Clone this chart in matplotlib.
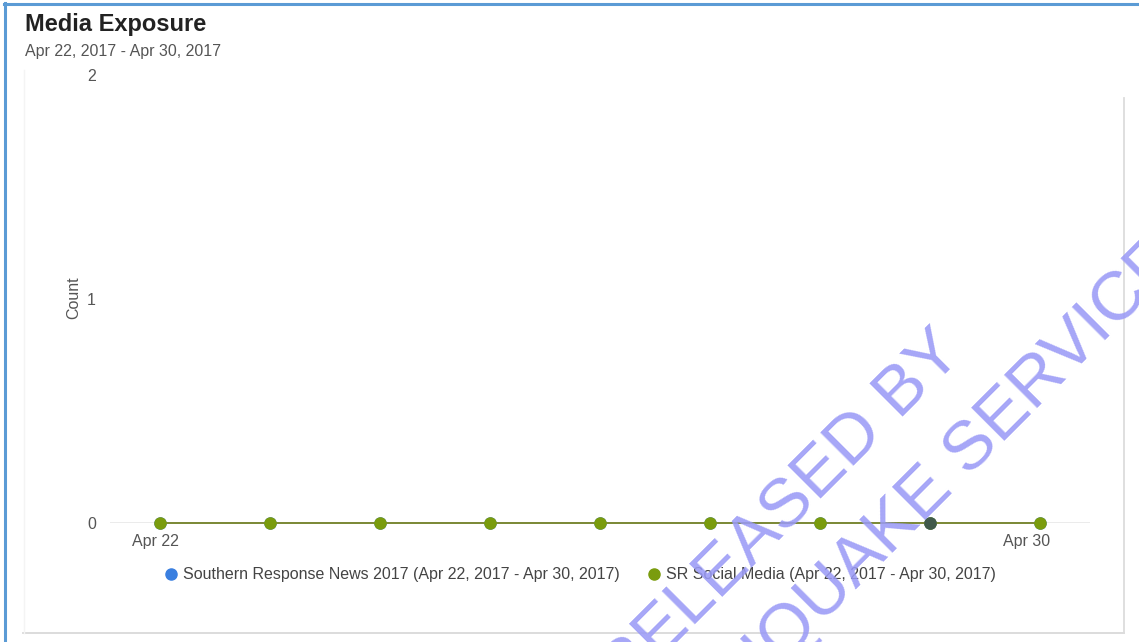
import matplotlib
matplotlib.use("Agg")
import matplotlib.pyplot as plt
from matplotlib.lines import Line2D
from matplotlib.transforms import ScaledTranslation

# ---- data ----
dates = ["Apr 22", "Apr 23", "Apr 24", "Apr 25", "Apr 26", "Apr 27", "Apr 28", "Apr 29", "Apr 30"]
news_counts = [0, 0, 0, 0, 0, 0, 0, 0, 0]
social_counts = [0, 0, 0, 0, 0, 0, 0, 0, 0]
highlight_index = 7
shown_xticks = ["Apr 22", "Apr 30"]
y_ticks = [0, 1, 2]
series_labels = ["Southern Response News 2017 (Apr 22, 2017 - Apr 30, 2017)",
                 "SR Social Media (Apr 22, 2017 - Apr 30, 2017)"]
title = "Media Exposure"
subtitle = "Apr 22, 2017 - Apr 30, 2017"
watermark_lines = ["RELEASED BY", "EARTHQUAKE SERVICES"]

W, H = 1139, 642
plt.rcParams['font.family'] = ['Liberation Sans', 'DejaVu Sans']

fig = plt.figure(figsize=(W / 100, H / 100), dpi=100)
fig.patch.set_facecolor('white')

def fx(px):
    return px / W

def fy(py):
    return 1 - py / H

# panel decorations
fig.add_artist(Line2D([fx(5), fx(5)], [fy(3), fy(H)], color='#5b9bd5', lw=2.2))
fig.add_artist(Line2D([fx(4), fx(W)], [fy(4), fy(4)], color='#5b9bd5', lw=2.2))
fig.add_artist(Line2D([fx(23), fx(1124)], [fy(633), fy(633)], color='#d9d9d9', lw=1.3))
fig.add_artist(Line2D([fx(1124), fx(1124)], [fy(98), fy(633)], color='#dcdcdc', lw=1.3))
fig.add_artist(Line2D([fx(24), fx(24)], [fy(70), fy(633)], color='#f4f4f4', lw=1.0))

fig.text(fx(25), fy(31), title, fontsize=17, fontweight='bold', color='#222222',
         ha='left', va='baseline')
fig.text(fx(25), fy(56), subtitle, fontsize=11.5, color='#555555',
         ha='left', va='baseline')

ax = fig.add_axes([fx(110), fy(523), fx(1090) - fx(110), fy(75) - fy(523)])
x = list(range(len(dates)))
ax.set_xlim(-50 / 110, len(dates) - 1 + 50 / 110)
ax.set_ylim(0, 2)
for s in ax.spines.values():
    s.set_visible(False)
ax.axhline(0, color='#e8e8e8', lw=1.2, zorder=1)

news_line, = ax.plot(x, news_counts, color='#3a7fe0', marker='o', markersize=8,
                     lw=1.3, clip_on=False, zorder=2)
social_line, = ax.plot(x, social_counts, color='#7f8b35', lw=1.4, marker='o',
                       markersize=8, markerfacecolor='#7a9c0e', markeredgecolor='#7a9c0e',
                       clip_on=False, zorder=3)
ax.plot([x[highlight_index]], [social_counts[highlight_index]], marker='o', markersize=8,
        color='#415a4a', clip_on=False, zorder=4)

ax.set_yticks(y_ticks)
ax.set_yticklabels([str(v) for v in y_ticks])
ax.set_xticks([dates.index(d) for d in shown_xticks])
ax.set_xticklabels(shown_xticks)
ax.tick_params(axis='y', length=0, pad=10, labelsize=11.5, labelcolor='#555555')
ax.tick_params(axis='x', length=0, pad=8, labelsize=11.5, labelcolor='#555555')
offs = [-5, -13]
for lab, dx in zip(ax.get_xticklabels(), offs):
    lab.set_transform(lab.get_transform() + ScaledTranslation(dx / 100, 0, fig.dpi_scale_trans))
ax.set_ylabel("Count", fontsize=11.5, color='#555555')
ax.yaxis.set_label_coords((fx(81) - fx(110)) / (fx(1090) - fx(110)),
                          (fy(298) - fy(523)) / (fy(75) - fy(523)))

h1 = Line2D([], [], color='#3a7fe0', marker='o', lw=0, markersize=8)
h2 = Line2D([], [], color='#7a9c0e', marker='o', lw=0, markersize=8)
leg = fig.legend([h1, h2], series_labels, loc='center left',
                 bbox_to_anchor=(fx(166), fy(575)), ncol=2, frameon=False,
                 fontsize=11.55, handlelength=0.6, handletextpad=0.45,
                 columnspacing=1.85, borderaxespad=0, borderpad=0)
for t in leg.get_texts():
    t.set_color('#444444')

# watermark
wm_kw = dict(fontsize=50, color='#9a9af6', alpha=0.88, rotation=45,
             rotation_mode='anchor', va='center', zorder=10)
fig.text(fx(952), fy(342), watermark_lines[0], ha='right', **wm_kw)
fig.text(fx(1203), fy(217), watermark_lines[1], ha='right', **wm_kw)

fig.savefig("out.png", dpi=100, facecolor='white')
